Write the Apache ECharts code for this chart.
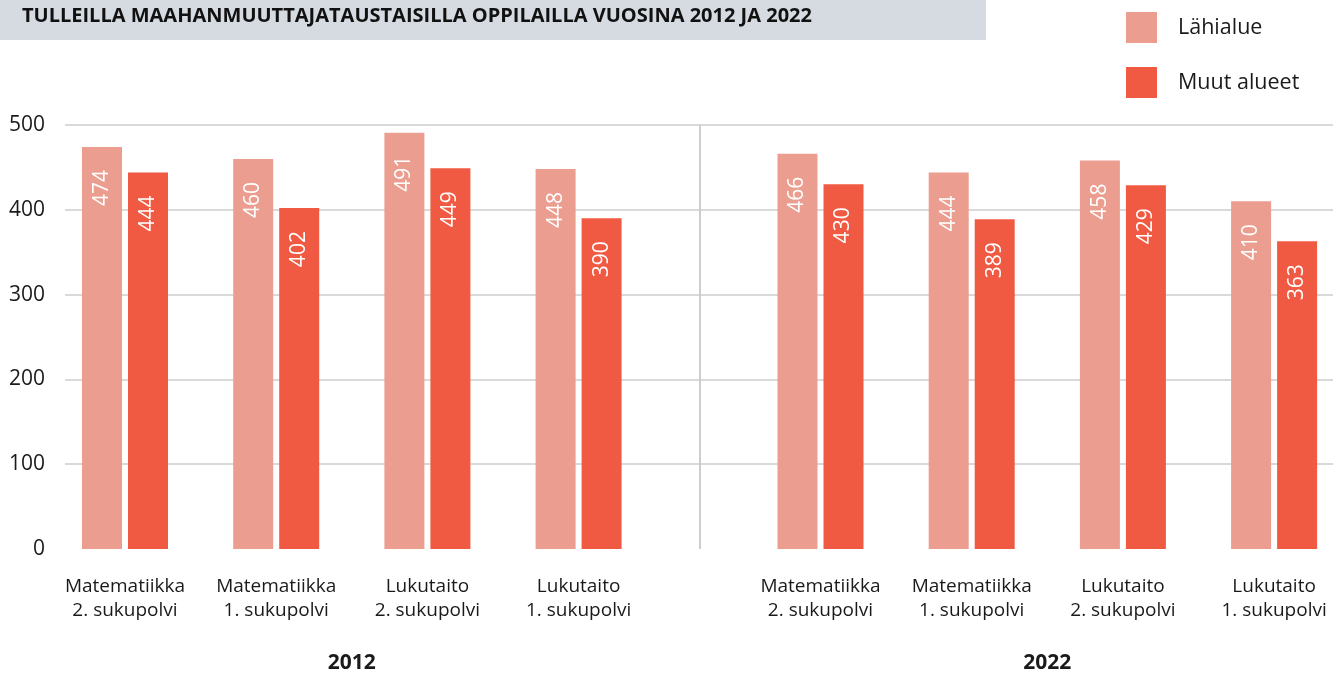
<!DOCTYPE html>
<html><head><meta charset="utf-8">
<script src="https://cdn.jsdelivr.net/npm/echarts@6/dist/echarts.min.js"></script>
<style>html,body{margin:0;padding:0;background:#fff;overflow:hidden}#c{width:1339px;height:673px}</style>
</head><body><div id="c"></div>
<script>
const title = 'TULLEILLA MAAHANMUUTTAJATAUSTAISILLA OPPILAILLA VUOSINA 2012 JA 2022';
const categories = ['Matematiikka\n2. sukupolvi','Matematiikka\n1. sukupolvi','Lukutaito\n2. sukupolvi','Lukutaito\n1. sukupolvi'];
const years = ['2012','2022'];
const seriesNames = ['Lähialue','Muut alueet'];
const lahialue2012 = [474,460,491,448];
const muut2012 = [444,402,449,390];
const lahialue2022 = [466,444,458,410];
const muut2022 = [430,389,429,363];
const yTicks = [0,100,200,300,400,500];

const FONT = '"Open Sans", sans-serif';
const LIGHT = '#eb9d8f', DARK = '#f15a42';
const chart = echarts.init(document.getElementById('c'));
const lbl = {show:true, position:'insideTop', rotate:90, align:'right', verticalAlign:'middle', distance:23, color:'#fff', fontSize:21, fontFamily:FONT};
function bar(name, data, idx, color){
  return {type:'bar', name, data, xAxisIndex:idx, yAxisIndex:idx, barWidth:40, barGap:'15%', itemStyle:{color}, label:lbl, silent:true};
}
const xCat = (idx, year) => ({type:'category', gridIndex:idx, data:categories,
  axisLine:{show:false}, axisTick:{show:false},
  axisLabel:{margin:26, fontSize:19, lineHeight:24, color:'#1a1a1a', fontFamily:FONT, interval:0},
  name:year, nameLocation:'middle', nameGap:104, nameTextStyle:{fontSize:21, fontWeight:'bold', color:'#1a1a1a', fontFamily:FONT}});
const yHidden = idx => ({type:'value', gridIndex:idx, min:0, max:500, interval:100, show:false});
chart.setOption({
  animation:false,
  graphic:[
    {type:'rect', shape:{x:0,y:0,width:986,height:40}, style:{fill:'#d5dbe1'}, silent:true},
    {type:'text', x:22, y:16, style:{text:title, font:'bold 20px "Open Sans", sans-serif', fill:'#111', textVerticalAlign:'middle'}},
    {type:'line', shape:{x1:700,y1:125,x2:700,y2:549}, style:{stroke:'#bdbdbd', lineWidth:1.5}, silent:true}
  ],
  legend:{orient:'vertical', left:1126, top:12, padding:0, itemWidth:31, itemHeight:31, itemGap:24, icon:'rect',
    data:seriesNames, textStyle:{fontSize:21.5, color:'#1a1a1a', fontFamily:FONT, padding:[0,0,0,16]}, selectedMode:false},
  grid:[
    {left:65, right:6, top:125, bottom:124, outerBoundsMode:'none'},
    {left:49.4, width:604.8, top:125, bottom:124, outerBoundsMode:'none'},
    {left:744.9, width:604.8, top:125, bottom:124, outerBoundsMode:'none'}
  ],
  xAxis:[
    {type:'value', gridIndex:0, show:false, min:0, max:1},
    xCat(1, years[0]), xCat(2, years[1])
  ],
  yAxis:[
    {type:'value', gridIndex:0, min:yTicks[0], max:yTicks[yTicks.length-1], interval:100,
      axisLine:{show:false}, axisTick:{show:false},
      axisLabel:{margin:20, fontSize:21, color:'#1a1a1a', fontFamily:FONT},
      splitLine:{lineStyle:{color:['rgba(0,0,0,0)','#cccccc','#cccccc','#cccccc','#cccccc','#cccccc'], width:1.5}}},
    yHidden(1), yHidden(2)
  ],
  series:[
    bar(seriesNames[0], lahialue2012, 1, LIGHT),
    bar(seriesNames[1], muut2012, 1, DARK),
    bar(seriesNames[0], lahialue2022, 2, LIGHT),
    bar(seriesNames[1], muut2022, 2, DARK)
  ]
});
</script></body></html>
